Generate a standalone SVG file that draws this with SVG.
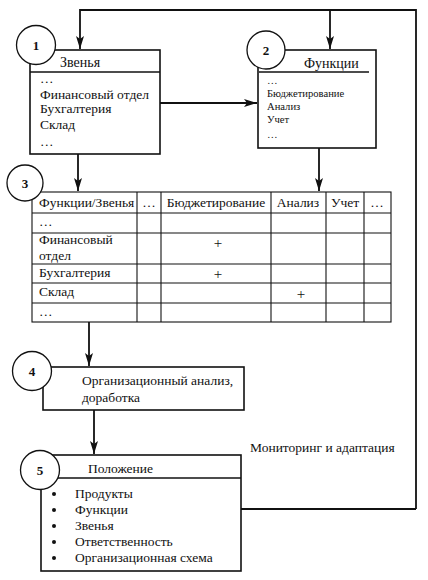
<svg xmlns="http://www.w3.org/2000/svg" width="428" height="580" viewBox="0 0 428 580">
<style>
text{font-family:"Liberation Serif","Noto Serif","DejaVu Serif",serif;fill:#111;font-size:13.5px}
.box{fill:#fff;stroke:#111;stroke-width:1.6}
.ln{stroke:#111;stroke-width:1.4;fill:none}
.tb{stroke:#111;stroke-width:1.1;fill:none}
.circ{fill:#fff;stroke:#111;stroke-width:1.3}
.num{font-weight:bold;font-size:13px;text-anchor:middle}
.con{stroke:#111;stroke-width:1.8;fill:none}
.sm{font-size:10.6px}
.hd{font-size:14px}
.c{text-anchor:middle}
.pl{font-size:15px;text-anchor:middle}
</style>
<defs>
<marker id="arr" markerUnits="userSpaceOnUse" markerWidth="14" markerHeight="8" refX="13" refY="4" orient="auto">
<path d="M0,0 L13,4 L0,8 L3,4 z" fill="#111"/>
</marker>
</defs>
<g id="connectors">
<path class="con" d="M416,509 L416,10 L80,10 L80,49" marker-end="url(#arr)"/>
<path class="con" d="M330,10 L330,49" marker-end="url(#arr)"/>
<path class="con" d="M160,103 L257,103" marker-end="url(#arr)"/>
<path class="con" d="M78,154 L78,191" marker-end="url(#arr)"/>
<path class="con" d="M319,148 L319,191" marker-end="url(#arr)"/>
<path class="con" d="M89,322 L89,366" marker-end="url(#arr)"/>
<path class="con" d="M94,410 L94,454" marker-end="url(#arr)"/>
<path class="con" d="M241,509 L416,509"/>
<text x="250" y="452">Мониторинг и адаптация</text>
</g>
<g id="node1">
<rect class="box" x="30" y="50" width="130" height="104"/>
<line class="ln" x1="30" y1="72" x2="160" y2="72"/>
<circle class="circ" cx="36" cy="45" r="19.5"/>
<text class="num" x="36" y="50">1</text>
<text class="hd" x="60" y="67">Звенья</text>
<text x="40" y="83">…</text>
<text x="40" y="99">Финансовый отдел</text>
<text x="40" y="113">Бухгалтерия</text>
<text x="40" y="129">Склад</text>
<text x="40" y="146">…</text>
</g>
<g id="node2">
<rect class="box" x="258" y="50" width="118" height="98"/>
<line class="ln" x1="259" y1="72" x2="369" y2="72"/>
<circle class="circ" cx="266" cy="50" r="19"/>
<text class="num" x="266" y="55">2</text>
<text class="hd" x="304" y="68">Функции</text>
<text class="sm" x="267" y="84">…</text>
<text class="sm" x="267" y="97">Бюджетирование</text>
<text class="sm" x="267" y="110">Анализ</text>
<text class="sm" x="267" y="123">Учет</text>
<text class="sm" x="267" y="138">…</text>
</g>
<g id="node3">
<rect class="tb" x="32" y="192" width="359" height="130"/>
<g class="tb">
<line x1="32" y1="213" x2="391" y2="213"/>
<line x1="32" y1="233" x2="391" y2="233"/>
<line x1="32" y1="264" x2="391" y2="264"/>
<line x1="32" y1="283" x2="391" y2="283"/>
<line x1="32" y1="303" x2="391" y2="303"/>
<line x1="137" y1="192" x2="137" y2="322"/>
<line x1="161" y1="192" x2="161" y2="322"/>
<line x1="271" y1="192" x2="271" y2="322"/>
<line x1="326" y1="192" x2="326" y2="322"/>
<line x1="364" y1="192" x2="364" y2="322"/>
</g>
<circle class="circ" cx="25" cy="183" r="18"/>
<text class="num" x="25" y="188">3</text>
<text x="39" y="207">Функции/Звенья</text>
<text class="c" x="149" y="207">…</text>
<text class="c" x="216" y="207">Бюджетирование</text>
<text class="c" x="298" y="207">Анализ</text>
<text class="c" x="345" y="207">Учет</text>
<text class="c" x="377" y="207">…</text>
<text x="39" y="226">…</text>
<text x="39" y="244">Финансовый</text>
<text x="39" y="260">отдел</text>
<text x="39" y="277">Бухгалтерия</text>
<text x="39" y="296">Склад</text>
<text x="39" y="316">…</text>
<text class="pl" x="218" y="248">+</text>
<text class="pl" x="218" y="279">+</text>
<text class="pl" x="301" y="299">+</text>
</g>
<g id="node4">
<rect class="box" x="43" y="367" width="201" height="43"/>
<circle class="circ" cx="32" cy="371" r="19.5"/>
<text class="num" x="32" y="376">4</text>
<text x="82" y="385">Организационный анализ,</text>
<text x="82" y="402">доработка</text>
</g>
<g id="node5">
<rect class="box" x="41" y="455" width="200" height="116"/>
<line class="ln" x1="41" y1="478" x2="241" y2="478"/>
<circle class="circ" cx="40" cy="470" r="19.5"/>
<text class="num" x="40" y="475">5</text>
<text x="88" y="473">Положение</text>
<g fill="#111">
<circle cx="54" cy="494" r="2"/>
<circle cx="54" cy="510" r="2"/>
<circle cx="54" cy="526" r="2"/>
<circle cx="54" cy="542" r="2"/>
<circle cx="54" cy="558" r="2"/>
</g>
<text x="75" y="498">Продукты</text>
<text x="75" y="514">Функции</text>
<text x="75" y="530">Звенья</text>
<text x="75" y="546">Ответственность</text>
<text x="75" y="562">Организационная схема</text>
</g>
</svg>
